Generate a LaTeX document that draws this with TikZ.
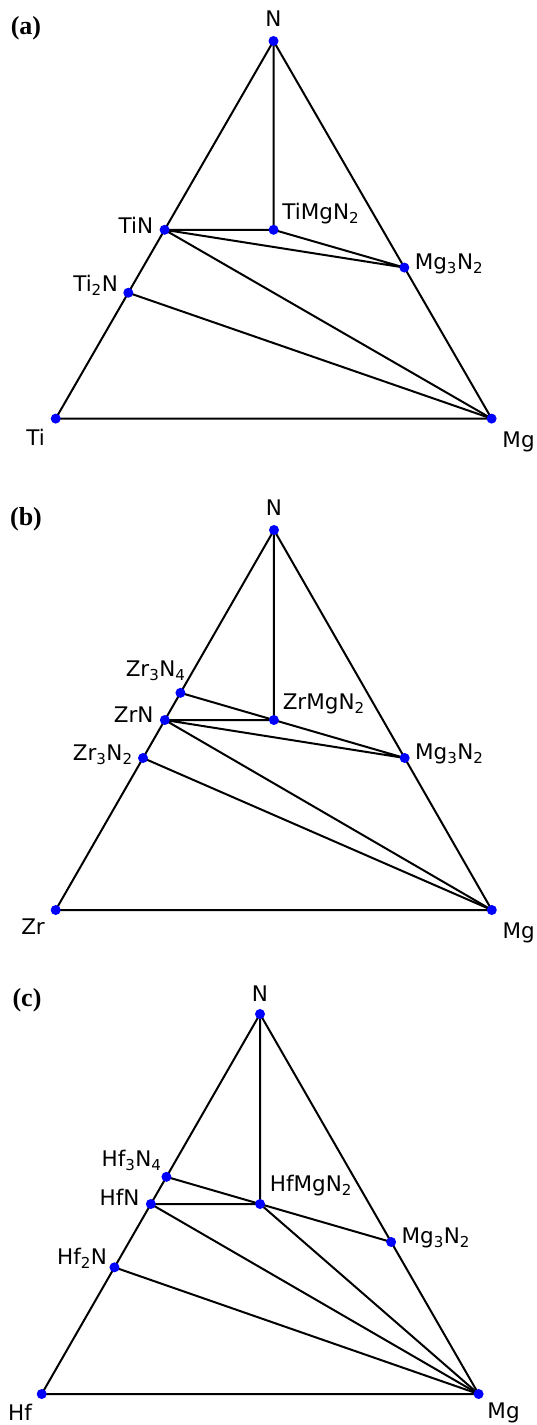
\documentclass[tikz,border=0pt]{standalone}
\usepackage{fontspec}
\newfontfamily\lblfont{DejaVu Sans}
\newfontfamily\panelfont{Liberation Serif}
\usetikzlibrary{calc,positioning}
\tikzset{
  phase/.style={circle,fill=blue,inner sep=0pt,minimum size=10pt},
  phaselabel/.style={font=\lblfont\fontsize{21.5}{24}\selectfont,inner sep=1pt},
  panel/.style={font=\panelfont\bfseries\fontsize{26}{30}\selectfont,inner sep=0pt},
  tieline/.style={line width=2pt,line join=round,black}
}

\begin{document}
\begin{tikzpicture}[x=1pt,y=-1pt]
    \useasboundingbox (0,0) rectangle (536,1425);
    %(a) Ti-Mg-N
    \coordinate (aN) at (273.5,41);
    \coordinate (aTi) at (55.7,418.6);
    \coordinate (aMg) at (491.6,418.6);
    \coordinate (aTiN) at (barycentric cs:aTi=1,aN=1);
    \coordinate (aTiIIN) at (barycentric cs:aTi=2,aN=1);
    \coordinate (aTern) at (barycentric cs:aTi=1,aMg=1,aN=2);
    \coordinate (aMgN) at (barycentric cs:aMg=3,aN=2);
    %Tie lines
    \draw[tieline] (aN) -- (aTi) -- (aMg) -- cycle;
    \draw[tieline] (aN) -- (aTern);
    \draw[tieline] (aTiN) -- (aTern) -- (aMgN) -- (aTiN) -- (aMg);
    \draw[tieline] (aTiIIN) -- (aMg);
    %Phases
    \foreach \p in {aN,aTi,aMg,aTiN,aTiIIN,aTern,aMgN}
        \node[phase] (\p-dot) at (\p) {};
    \node[phaselabel, above=8pt of aN-dot] (aN-lab) {N};
    \node[phaselabel, left=5pt of aTiN-dot, yshift=4pt] (aTiN-lab) {TiN};
    \node[phaselabel, left=4pt of aTiIIN-dot, yshift=7pt] (aTiIIN-lab) {Ti\textsubscript{2}N};
    \node[phaselabel, above right=1pt and 4pt of aTern-dot] (aTern-lab) {TiMgN\textsubscript{2}};
    \node[phaselabel, right=4pt of aMgN-dot, yshift=4pt] (aMgN-lab) {Mg\textsubscript{3}N\textsubscript{2}};
    \node[phaselabel, below left=6pt and 6pt of aTi-dot] (aTi-lab) {Ti};
    \node[phaselabel, below right=8pt and 6pt of aMg-dot] (aMg-lab) {Mg};
    \node[panel] (a-tag) at (26,28) {(a)};

    %(b) Zr-Mg-N
    \coordinate (bN) at (274,530);
    \coordinate (bZr) at (55.7,910);
    \coordinate (bMg) at (491.8,910);
    \coordinate (bZrIIIN4) at (barycentric cs:bZr=3,bN=4);
    \coordinate (bZrN) at (barycentric cs:bZr=1,bN=1);
    \coordinate (bZrIIIN2) at (barycentric cs:bZr=3,bN=2);
    \coordinate (bTern) at (barycentric cs:bZr=1,bMg=1,bN=2);
    \coordinate (bMgN) at (barycentric cs:bMg=3,bN=2);
    %Tie lines
    \draw[tieline] (bN) -- (bZr) -- (bMg) -- cycle;
    \draw[tieline] (bN) -- (bTern);
    \draw[tieline] (bZrIIIN4) -- (bTern);
    \draw[tieline] (bZrN) -- (bTern) -- (bMgN) -- (bZrN) -- (bMg);
    \draw[tieline] (bZrIIIN2) -- (bMg);
    %Phases
    \foreach \p in {bN,bZr,bMg,bZrIIIN4,bZrN,bZrIIIN2,bTern,bMgN}
        \node[phase] (\p-dot) at (\p) {};
    \node[phaselabel, above=8pt of bN-dot] (bN-lab) {N};
    \node[phaselabel, above left=7pt and -10pt of bZrIIIN4-dot] (bZrIIIN4-lab) {Zr\textsubscript{3}N\textsubscript{4}};
    \node[phaselabel, left=5pt of bZrN-dot, yshift=5pt] (bZrN-lab) {ZrN};
    \node[phaselabel, left=4pt of bZrIIIN2-dot, yshift=3pt] (bZrIIIN2-lab) {Zr\textsubscript{3}N\textsubscript{2}};
    \node[phaselabel, above right=1pt and 4pt of bTern-dot] (bTern-lab) {ZrMgN\textsubscript{2}};
    \node[phaselabel, right=4pt of bMgN-dot, yshift=4pt] (bMgN-lab) {Mg\textsubscript{3}N\textsubscript{2}};
    \node[phaselabel, below left=4pt and 6pt of bZr-dot] (bZr-lab) {Zr};
    \node[phaselabel, below right=8pt and 6pt of bMg-dot] (bMg-lab) {Mg};
    \node[panel] (b-tag) at (26,519) {(b)};

    %(c) Hf-Mg-N
    \coordinate (cN) at (260,1014);
    \coordinate (cHf) at (41.7,1394);
    \coordinate (cMg) at (478.6,1394);
    \coordinate (cHfIIIN4) at (barycentric cs:cHf=3,cN=4);
    \coordinate (cHfN) at (barycentric cs:cHf=1,cN=1);
    \coordinate (cHfIIN) at (barycentric cs:cHf=2,cN=1);
    \coordinate (cTern) at (barycentric cs:cHf=1,cMg=1,cN=2);
    \coordinate (cMgN) at (barycentric cs:cMg=3,cN=2);
    %Tie lines
    \draw[tieline] (cN) -- (cHf) -- (cMg) -- cycle;
    \draw[tieline] (cN) -- (cTern);
    \draw[tieline] (cHfIIIN4) -- (cTern);
    \draw[tieline] (cHfN) -- (cTern) -- (cMgN);
    \draw[tieline] (cHfN) -- (cMg);
    \draw[tieline] (cTern) -- (cMg);
    \draw[tieline] (cHfIIN) -- (cMg);
    %Phases
    \foreach \p in {cN,cHf,cMg,cHfIIIN4,cHfN,cHfIIN,cTern,cMgN}
        \node[phase] (\p-dot) at (\p) {};
    \node[phaselabel, above=6pt of cN-dot] (cN-lab) {N};
    \node[phaselabel, above left=1pt and 0pt of cHfIIIN4-dot] (cHfIIIN4-lab) {Hf\textsubscript{3}N\textsubscript{4}};
    \node[phaselabel, left=5pt of cHfN-dot, yshift=7pt] (cHfN-lab) {HfN};
    \node[phaselabel, left=1pt of cHfIIN-dot, yshift=9pt] (cHfIIN-lab) {Hf\textsubscript{2}N};
    \node[phaselabel, above right=3pt and 5pt of cTern-dot] (cTern-lab) {HfMgN\textsubscript{2}};
    \node[phaselabel, right=4pt of cMgN-dot, yshift=4pt] (cMgN-lab) {Mg\textsubscript{3}N\textsubscript{2}};
    \node[phaselabel, below left=5pt and 5pt of cHf-dot] (cHf-lab) {Hf};
    \node[phaselabel, below right=4pt and 4pt of cMg-dot] (cMg-lab) {Mg};
    \node[panel] (c-tag) at (27,1000) {(c)};
\end{tikzpicture}
\end{document}
